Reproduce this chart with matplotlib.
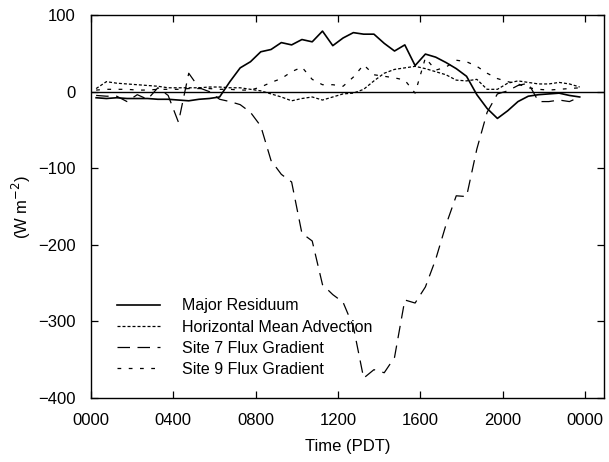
import numpy as np
import matplotlib

matplotlib.use("Agg")
import matplotlib.pyplot as plt

plt.rcParams["font.family"] = ["Liberation Sans", "DejaVu Sans"]

# half-hourly values, centred on the half hour (hours, PDT)
hours = np.arange(48) * 0.5 + 0.25

major_residuum = [
    -8, -9, -8, -9, -9, -9, -10, -10, -11, -12, -10, -9,
    -7, 13, 31, 39, 52, 55, 64, 61, 68, 65, 79, 60,
    70, 77, 75, 75, 63, 53, 61, 34, 49, 45, 38, 30,
    20, -4, -22, -35, -25, -13, -6, -4, -3, -2, -5, -7,
]
horiz_mean_adv = [
    4, 13, 11, 10, 9, 8, 7, 5, 5, 5, 5, 6,
    6, 5, 5, 3, 1, -3, -7, -12, -9, -7, -11, -7,
    -3, -2, 3, 14, 24, 29, 31, 33, 30, 26, 22, 15,
    14, 16, 3, 3, 11, 14, 12, 10, 10, 12, 10, 6,
]
site7_flux = [
    -5, -6, -6, -13, -4, -10, 5, -5, -40, 24, 5, 0,
    -10, -13, -17, -27, -45, -90, -108, -118, -185, -195, -252, -265,
    -275, -307, -374, -363, -367, -347, -272, -276, -255, -219, -174, -136,
    -137, -75, -27, -3, 1, 8, 11, -13, -13, -11, -13, -7,
]
site9_flux = [
    2, 3, 3, 3, 2, 2, 3, 3, 3, 4, 4, 4,
    3, 3, 2, 2, 6, 12, 17, 26, 32, 16, 9, 9,
    7, 19, 35, 22, 20, 18, 15, -2, 44, 28, 32, 41,
    39, 33, 24, 17, 13, 10, 5, 3, 2, 3, 4, 5,
]

xticks = [0, 4, 8, 12, 16, 20, 24]
xticklabels = ["0000", "0400", "0800", "1200", "1600", "2000", "0000"]
yticks = [100, 0, -100, -200, -300, -400]

fig = plt.figure(figsize=(6.09, 4.62), dpi=100)
ax = fig.add_axes([0.1494, 0.1385, 0.8424, 0.829])

ax.axhline(0, color="black", lw=1.0)
ax.plot(hours, major_residuum, color="black", lw=1.2, label="Major Residuum")
ax.plot(hours, horiz_mean_adv, color="black", lw=0.9,
        linestyle=(0, (2.4, 1.6)), label="Horizontal Mean Advection")
ax.plot(hours, site7_flux, color="black", lw=0.9,
        linestyle=(0, (10, 6)), label="Site 7 Flux Gradient")
ax.plot(hours, site9_flux, color="black", lw=0.9,
        linestyle=(0, (3, 6)), label="Site 9 Flux Gradient")

ax.set_xlim(0, 24.93)
ax.set_ylim(-400, 100)
ax.set_xticks(xticks)
ax.set_xticklabels(xticklabels)
ax.set_yticks(yticks)
ax.tick_params(direction="in", length=5, width=0.9, labelsize=12, pad=11,
               top=True, right=True)
for s in ax.spines.values():
    s.set_linewidth(1.0)

ax.set_xlabel("Time (PDT)", fontsize=12, labelpad=8)
ax.set_ylabel(r"(W m$^{-2}$)", fontsize=12, labelpad=4)

ax.legend(loc="upper left", bbox_to_anchor=(0.05, 0.26), frameon=False,
          fontsize=11.5, handlelength=2.7, handletextpad=1.4,
          labelspacing=0.38, borderpad=0, borderaxespad=0)

fig.savefig("out.png", dpi=100)
plt.close(fig)
